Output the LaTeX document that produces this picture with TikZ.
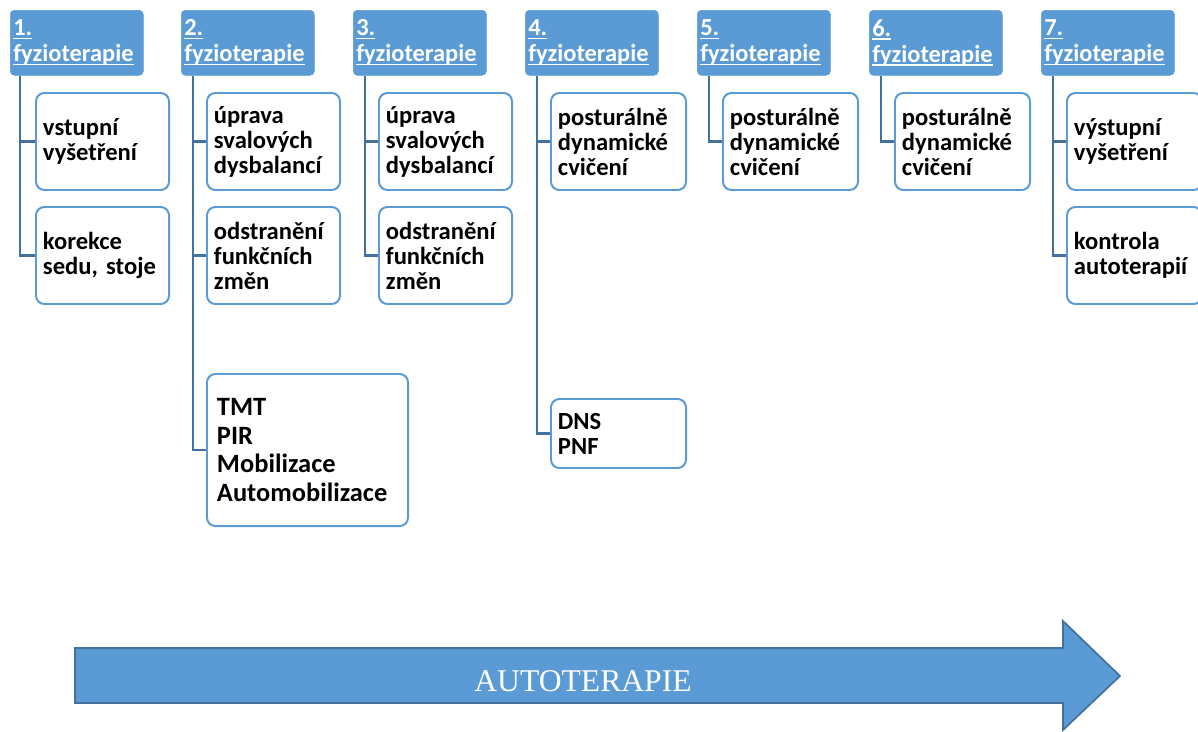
\documentclass[tikz,border=0pt]{standalone}
\usepackage{fontspec}
\setmainfont{Carlito}
\newfontfamily\autofont{Liberation Serif}
\newcommand\hul[1]{\leavevmode\setbox0\hbox{#1}\rlap{\rule[-2.4pt]{\wd0}{1pt}}\box0}
\definecolor{hdrblue}{HTML}{5B9BD5}
\definecolor{linkblue}{HTML}{41719C}
\frenchspacing
\begin{document}
\begin{tikzpicture}[x=0.025cm,y=-0.025cm,
    hdr/.style={fill=hdrblue, draw=hdrblue, rounded corners=3pt, anchor=north west, text=white, align=left,
        text width=3.175cm, inner xsep=0.075cm, inner ysep=0pt, minimum height=1.625cm,
        font=\fontsize{17.4}{18.5}\selectfont\bfseries},
    sub/.style={draw=hdrblue, line width=1.4pt, rounded corners=6pt, fill=white, anchor=north west, align=left,
        text width=2.975cm, inner xsep=0.175cm, inner ysep=0pt, minimum height=2.425cm,
        font=\fontsize{17.5}{17.8}\selectfont\bfseries},
    link/.style={draw=linkblue, line width=1.8pt}]
    \useasboundingbox (0,0) rectangle (1198,731);

    \node[hdr] (H1) at (10,10) {\hul{1.}\\\hul{fyzioterapie}};
    \node[hdr] (H2) at (181,10) {\hul{2.}\\\hul{fyzioterapie}};
    \node[hdr] (H3) at (353,10) {\hul{3.}\\\hul{fyzioterapie}};
    \node[hdr] (H4) at (525,10) {\hul{4.}\\\hul{fyzioterapie}};
    \node[hdr] (H5) at (697,10) {\hul{5.}\\\hul{fyzioterapie}};
    \node[hdr] (H6) at (869,10) {\hul{6.}\\\hul{fyzioterapie}};
    \node[hdr] (H7) at (1041,10) {\hul{7.}\\\hul{fyzioterapie}};

    \node[sub] (A1) at (35,92) {vstupní\\vyšetření};
    \node[sub] (A2) at (35,206) {korekce\\sedu, stoje};
    \node[sub] (B1) at (206,92) {úprava\\svalových\\dysbalancí};
    \node[sub] (B2) at (206,206) {odstranění\\funkčních\\změn};
    \node[sub, text width=4.525cm, inner xsep=0.25cm, minimum height=3.8cm,
        font=\fontsize{18.8}{20.6}\selectfont\bfseries] (B3) at (206,373) {TMT\\PIR\\Mobilizace\\Automobilizace};
    \node[sub] (C1) at (378,92) {úprava\\svalových\\dysbalancí};
    \node[sub] (C2) at (378,206) {odstranění\\funkčních\\změn};
    \node[sub, text width=3.025cm] (D1) at (550,92) {posturálně\\dynamické\\cvičení};
    \node[sub, text width=3.025cm, minimum height=1.725cm] (D2) at (550,398) {DNS\\PNF};
    \node[sub, text width=3.025cm] (E1) at (722,92) {posturálně\\dynamické\\cvičení};
    \node[sub, text width=3.025cm] (F1) at (894,92) {posturálně\\dynamické\\cvičení};
    \node[sub, text width=3.025cm] (G1) at (1066,92) {výstupní\\vyšetření};
    \node[sub, text width=3.025cm] (G2) at (1066,206) {kontrola\\autoterapií};

    \draw[link] ([xshift=0.25cm]H1.south west) |- (A1.west);
    \draw[link] ([xshift=0.25cm]H1.south west) |- (A2.west);
    \draw[link] ([xshift=0.3cm]H2.south west) |- (B1.west);
    \draw[link] ([xshift=0.3cm]H2.south west) |- (B2.west);
    \draw[link] ([xshift=0.3cm]H2.south west) |- (B3.west);
    \draw[link] ([xshift=0.3cm]H3.south west) |- (C1.west);
    \draw[link] ([xshift=0.3cm]H3.south west) |- (C2.west);
    \draw[link] ([xshift=0.3cm]H4.south west) |- (D1.west);
    \draw[link] ([xshift=0.3cm]H4.south west) |- (D2.west);
    \draw[link] ([xshift=0.3cm]H5.south west) |- (E1.west);
    \draw[link] ([xshift=0.3cm]H6.south west) |- (F1.west);
    \draw[link] ([xshift=0.3cm]H7.south west) |- (G1.west);
    \draw[link] ([xshift=0.3cm]H7.south west) |- (G2.west);

    \filldraw[fill=hdrblue, draw=linkblue, line width=1.2pt]
        (75,648) -- (1063,648) -- (1063,621) -- (1120,676) -- (1063,730) -- (1063,703) -- (75,703) -- cycle;
    \node[anchor=base, text=white, font=\autofont\fontsize{22.5}{26}\selectfont] (auto) at (583,691) {AUTOTERAPIE};
\end{tikzpicture}
\end{document}
